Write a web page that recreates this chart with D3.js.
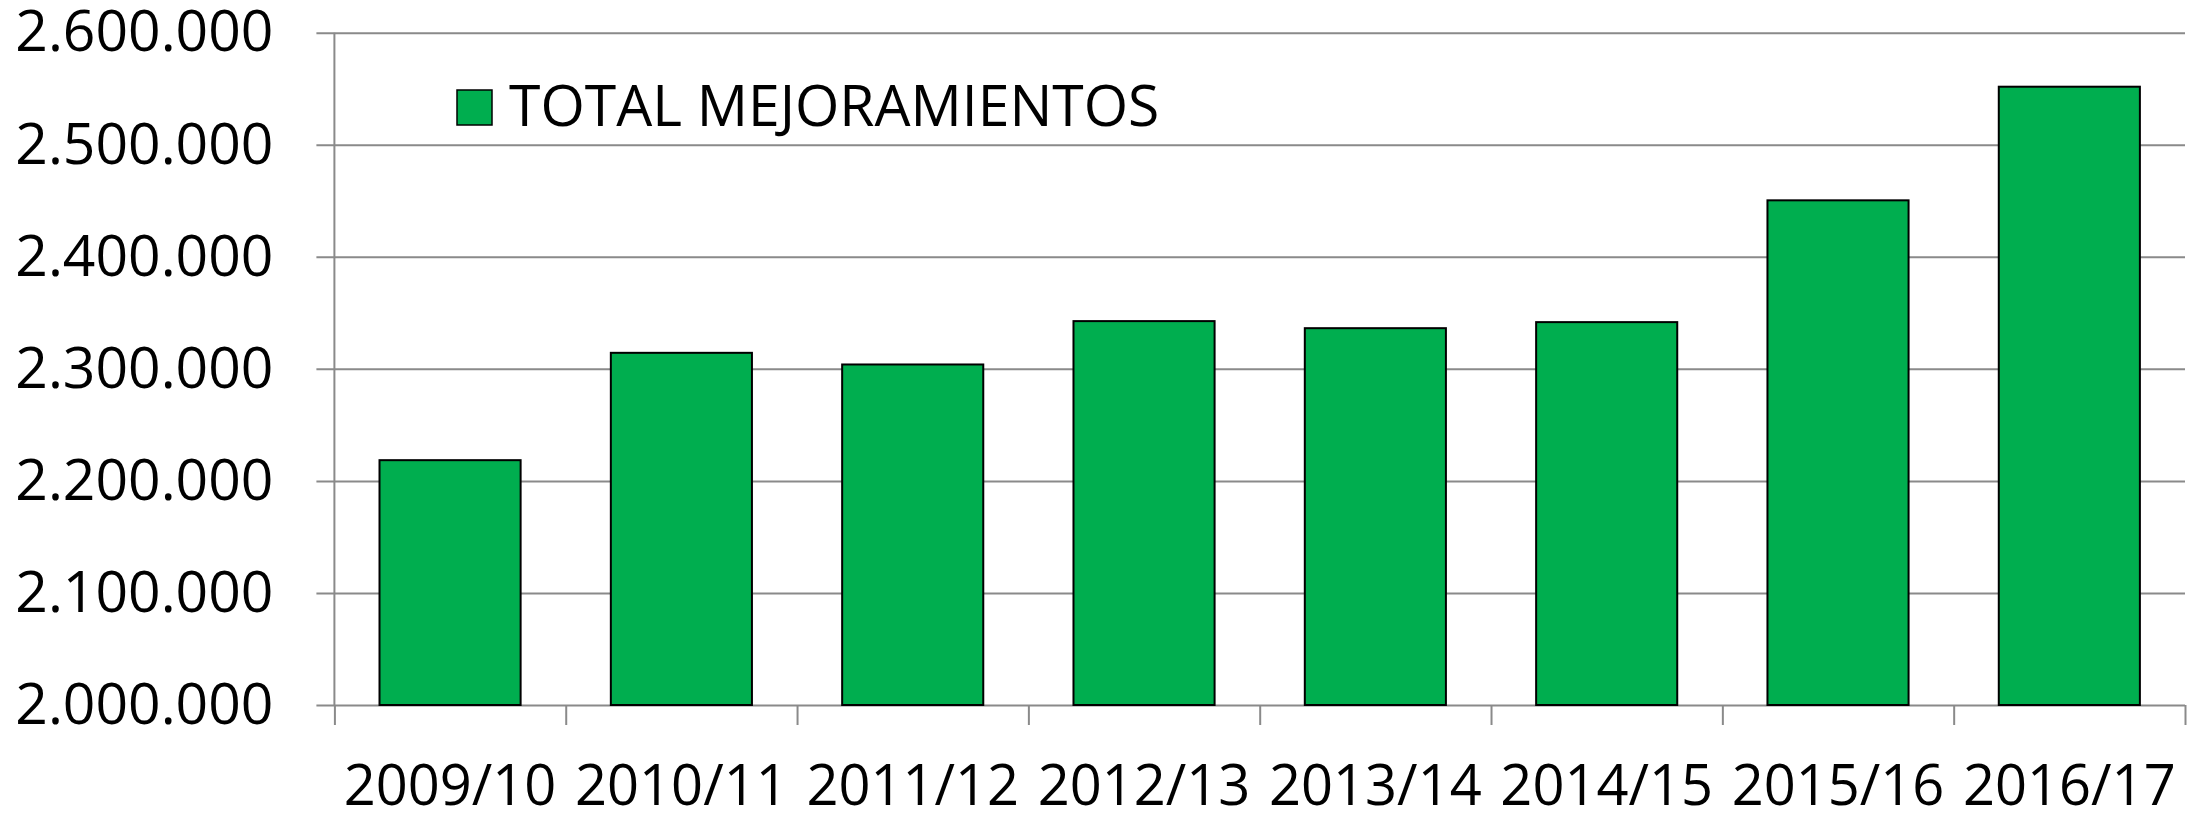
<!DOCTYPE html>
<html>
<head>
<meta charset="utf-8">
<script src="https://cdn.jsdelivr.net/npm/d3@7"></script>
<style>
    body { margin: 0; background: #ffffff; }
    svg text { font-family: "Open Sans", sans-serif; fill: #000000; }
</style>
</head>
<body>
<svg id="svg_panel" width="2203" height="822"></svg>
<script>
// data
var seasons = ["2009/10", "2010/11", "2011/12", "2012/13", "2013/14", "2014/15", "2015/16", "2016/17"];
var totalMejoramientos = [2218500, 2314300, 2303900, 2342600, 2336300, 2341700, 2450400, 2551800];
var yTicks = [2000000, 2100000, 2200000, 2300000, 2400000, 2500000, 2600000];
var seriesName = "TOTAL MEJORAMIENTOS";

var drawBarChart = function (svg_id) {
    var originalWidth = 2203;
    var originalHeight = 822;
    var margin = { top: 32.7, right: 18, bottom: 117, left: 334.4 },
        width = originalWidth - margin.left - margin.right,
        height = originalHeight - margin.top - margin.bottom;

    var svg = d3.select("#" + svg_id)
        .append("g")
        .attr("transform", "translate(" + margin.left + "," + margin.top + ")");

    // number format with dots as thousands separator
    var locale = d3.formatLocale({ decimal: ",", thousands: ".", grouping: [3], currency: ["", ""] });
    var fmt = locale.format(",.0f");

    // scales
    var x = d3.scaleBand()
        .domain(seasons)
        .range([0, width])
        .paddingInner(0.39)
        .paddingOuter(0.195);
    var xEdge = d3.scaleLinear()
        .domain([0, seasons.length])
        .range([0, width]);
    var y = d3.scaleLinear()
        .domain([2000000, 2600000])
        .range([height, 0]);

    // Y axis with gridlines (shifted so the lines stick out to the left)
    var yAxis = svg.append("g")
        .attr("transform", "translate(-18,0)")
        .call(d3.axisLeft(y)
            .tickValues(yTicks)
            .tickFormat(fmt)
            .tickSizeInner(-(width + 18))
            .tickSizeOuter(0)
            .tickPadding(43));
    yAxis.select(".domain").remove();
    yAxis.selectAll(".tick line")
        .attr("stroke", "#8a8a8a")
        .attr("stroke-width", 2);
    yAxis.selectAll(".tick text")
        .attr("style", "font-size: 57px;")
        .attr("fill", "#000");

    // vertical axis line
    svg.append("line")
        .attr("x1", 0).attr("x2", 0)
        .attr("y1", 0).attr("y2", height)
        .attr("stroke", "#8a8a8a")
        .attr("stroke-width", 2);

    // X axis tick marks between categories
    var xTicks = svg.append("g")
        .attr("transform", "translate(0," + height + ")")
        .call(d3.axisBottom(xEdge)
            .tickValues(d3.range(seasons.length + 1))
            .tickFormat("")
            .tickSizeInner(20)
            .tickSizeOuter(0));
    xTicks.select(".domain").remove();
    xTicks.selectAll(".tick line")
        .attr("stroke", "#8a8a8a")
        .attr("stroke-width", 2);

    // X axis labels
    var xLabels = svg.append("g")
        .attr("transform", "translate(0," + height + ")")
        .call(d3.axisBottom(x).tickSize(0).tickPadding(60));
    xLabels.select(".domain").remove();
    xLabels.selectAll(".tick text")
        .attr("style", "font-size: 56px;")
        .attr("fill", "#000");

    // bars
    svg.append("g")
        .selectAll("rect")
        .data(seasons)
        .enter()
        .append("rect")
        .attr("x", function (d) { return x(d); })
        .attr("y", function (d, i) { return y(totalMejoramientos[i]); })
        .attr("width", x.bandwidth())
        .attr("height", function (d, i) { return height - y(totalMejoramientos[i]); })
        .attr("fill", "#00ae4f")
        .attr("stroke", "#000")
        .attr("stroke-width", 2);

    // legend
    var legend = svg.append("g")
        .attr("transform", "translate(" + (457 - margin.left) + "," + (90 - margin.top) + ")");
    legend.append("rect")
        .attr("width", 35)
        .attr("height", 35)
        .attr("fill", "#00ae4f")
        .attr("stroke", "#000")
        .attr("stroke-width", 1.5);
    legend.append("text")
        .attr("x", 52)
        .attr("y", 36)
        .attr("style", "font-size: 57px;")
        .text(seriesName);
};

drawBarChart("svg_panel");
</script>
</body>
</html>
